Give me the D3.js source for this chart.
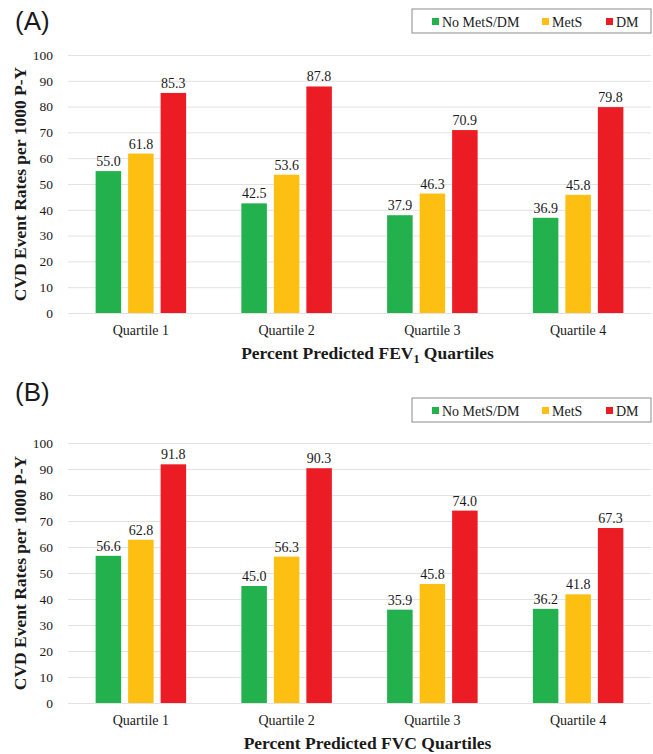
<!DOCTYPE html>
<html>
<head>
<meta charset="utf-8">
<script src="https://cdn.jsdelivr.net/npm/d3@7"></script>
<style>
  body { margin: 0; background: #fff; }
  text { font-family: "Liberation Serif", "Times New Roman", serif; fill: #1a1a1a; }
</style>
</head>
<body>
<div id="chart"></div>
<script>
var quartiles = ["Quartile 1", "Quartile 2", "Quartile 3", "Quartile 4"];
var groups = ["No MetS/DM", "MetS", "DM"];
var yTicks = [0, 10, 20, 30, 40, 50, 60, 70, 80, 90, 100];

// panel A: FEV1
var fevNone = [55.0, 42.5, 37.9, 36.9];
var fevMets = [61.8, 53.6, 46.3, 45.8];
var fevDm = [85.3, 87.8, 70.9, 79.8];

// panel B: FVC
var fvcNone = [56.6, 45.0, 35.9, 36.2];
var fvcMets = [62.8, 56.3, 45.8, 41.8];
var fvcDm = [91.8, 90.3, 74.0, 67.3];

var color = d3.scaleOrdinal()
  .domain(groups)
  .range(["#22b14c", "#fdbf12", "#ec1c24"]);

var width = 653, height = 754;
var left = 68, right = 651;

var svg = d3.select("#chart").append("svg")
  .attr("width", width)
  .attr("height", height);

var panels = [
  {tag: "(A)", tagY: 30, legendY: 9, top: 55, bottom: 313, xTitle: "FEV", sub: "1",
   values: [fevNone, fevMets, fevDm]},
  {tag: "(B)", tagY: 401, legendY: 398, top: 443, bottom: 703, xTitle: "FVC", sub: "",
   values: [fvcNone, fvcMets, fvcDm]}
];

var x0 = d3.scaleBand().domain(quartiles).range([left, right]);
var x1 = d3.scaleBand().domain(groups).range([0, x0.bandwidth()])
  .paddingInner(0.215).paddingOuter(0.85);

panels.forEach(function(p) {
  var y = d3.scaleLinear().domain([0, 100]).range([p.bottom, p.top]);
  var g = svg.append("g");

  g.append("text")
    .attr("x", 15).attr("y", p.tagY)
    .style("font-family", "'Liberation Sans', Arial, sans-serif")
    .style("font-size", "26px")
    .text(p.tag);

  // gridlines + tick labels
  var yAxis = g.append("g")
    .attr("transform", "translate(" + left + ",0)")
    .call(d3.axisLeft(y).tickValues(yTicks).tickSize(-(right - left)).tickPadding(15));
  yAxis.select(".domain").remove();
  yAxis.selectAll("line").attr("stroke", "#e2e2e2");
  yAxis.selectAll("text")
    .style("font-family", "'Liberation Serif', 'Times New Roman', serif")
    .style("font-size", "13.5px")
    .attr("fill", "#1a1a1a");

  var rows = quartiles.map(function(q, i) {
    return {q: q, vals: groups.map(function(s, k) { return {s: s, v: p.values[k][i]}; })};
  });

  var grp = g.selectAll(".grp")
    .data(rows)
    .enter().append("g")
    .attr("transform", function(d) { return "translate(" + x0(d.q) + ",0)"; });

  grp.selectAll("rect")
    .data(function(d) { return d.vals; })
    .enter().append("rect")
    .attr("x", function(d) { return x1(d.s); })
    .attr("y", function(d) { return y(d.v); })
    .attr("width", x1.bandwidth())
    .attr("height", function(d) { return y(0) - y(d.v); })
    .style("fill", function(d) { return color(d.s); });

  grp.selectAll(".val")
    .data(function(d) { return d.vals; })
    .enter().append("text")
    .attr("x", function(d) { return x1(d.s) + x1.bandwidth() / 2; })
    .attr("y", function(d) { return y(d.v) - 5; })
    .attr("text-anchor", "middle")
    .style("font-size", "14px")
    .text(function(d) { return d.v.toFixed(1); });

  g.selectAll(".qlab")
    .data(quartiles)
    .enter().append("text")
    .attr("x", function(d) { return x0(d) + x0.bandwidth() / 2; })
    .attr("y", p.bottom + 22)
    .attr("text-anchor", "middle")
    .style("font-size", "14px")
    .text(function(d) { return d; });

  var xt = g.append("text")
    .attr("x", (left + right) / 2 + 8)
    .attr("y", p.bottom + 46)
    .attr("text-anchor", "middle")
    .style("font-size", "17.5px")
    .style("font-weight", "bold");
  xt.append("tspan").text("Percent Predicted " + p.xTitle);
  if (p.sub) {
    xt.append("tspan").attr("dy", 4).style("font-size", "12px").text(p.sub);
    xt.append("tspan").attr("dy", -4).text(" Quartiles");
  } else {
    xt.append("tspan").text(" Quartiles");
  }

  g.append("text")
    .attr("transform", "translate(26," + (p.top + p.bottom) / 2 + ") rotate(-90)")
    .attr("text-anchor", "middle")
    .style("font-size", "17.5px")
    .style("font-weight", "bold")
    .text("CVD Event Rates per 1000 P-Y");

  // legend
  var lg = g.append("g").attr("transform", "translate(412," + p.legendY + ")");
  lg.append("rect")
    .attr("width", 239).attr("height", 24)
    .attr("fill", "#fff").attr("stroke", "#8c8c8c").attr("stroke-width", 1);
  var lx = [20, 130, 194];
  groups.forEach(function(s, i) {
    lg.append("rect")
      .attr("x", lx[i]).attr("y", 9).attr("width", 7).attr("height", 7)
      .attr("fill", color(s));
    lg.append("text")
      .attr("x", lx[i] + 10).attr("y", 17.5)
      .style("font-size", "14px")
      .text(s);
  });
});
</script>
</body>
</html>
